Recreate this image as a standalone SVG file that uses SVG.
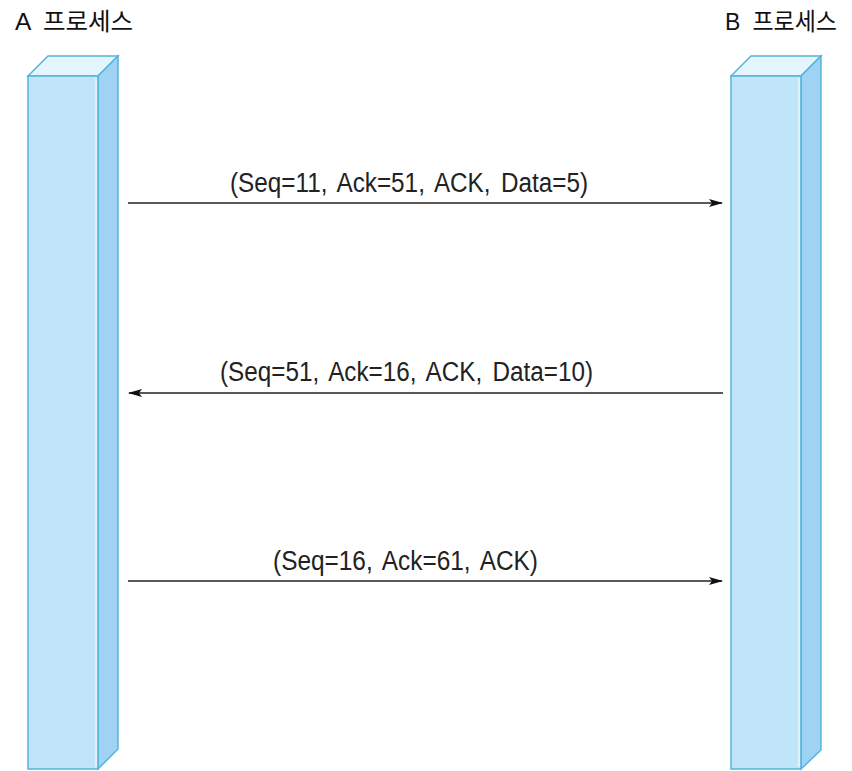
<svg xmlns="http://www.w3.org/2000/svg" width="852" height="771" viewBox="0 0 852 771">
<defs>
<style>
.lbl{font-family:"Liberation Sans","Noto Sans CJK KR",sans-serif;fill:#222;word-spacing:4px}
.hdr{font-family:"Liberation Sans","Noto Sans CJK KR",sans-serif;font-size:24px;fill:#111;word-spacing:6px}
.front{fill:#c0e4f8;stroke:#56b4dc;stroke-width:1.5}
.side{fill:#9fd3f3;stroke:#56b4dc;stroke-width:1.5}
.top{fill:#e4f5fd;stroke:#56b4dc;stroke-width:1.5}
.hl{stroke:#e8f7ff;stroke-width:1.5}
.msg{stroke:#222;stroke-width:1.3;fill:none}
</style>
<marker id="ah" viewBox="0 0 14 10" refX="13" refY="5" markerWidth="14" markerHeight="10" markerUnits="userSpaceOnUse" orient="auto">
<path d="M0,1 L14,5 L0,9 L3,5 Z" fill="#111"/>
</marker>
</defs>
<rect width="852" height="771" fill="#fff"/>
<g id="procA">
<text class="hdr" x="15" y="30" textLength="118" lengthAdjust="spacingAndGlyphs">A 프로세스</text>
<polygon class="top" points="28,76 48,56 118,56 98,76"/>
<polygon class="side" points="98,76 118,56 118,749 98,769"/>
<rect class="front" x="28" y="76" width="70" height="693"/>
<line class="hl" x1="96" y1="78" x2="96" y2="767"/>
</g>
<g id="procB">
<text class="hdr" x="725" y="30" textLength="112" lengthAdjust="spacingAndGlyphs">B 프로세스</text>
<polygon class="top" points="731,76 751,56 821,56 801,76"/>
<polygon class="side" points="801,76 821,56 821,750 801,769"/>
<rect class="front" x="731" y="76" width="70" height="693"/>
<line class="hl" x1="799" y1="78" x2="799" y2="767"/>
</g>
<g id="connectors">
<line class="msg" x1="128" y1="203" x2="722" y2="203" marker-end="url(#ah)"/>
<line class="msg" x1="723" y1="393" x2="129" y2="393" marker-end="url(#ah)"/>
<line class="msg" x1="128" y1="581" x2="722" y2="581" marker-end="url(#ah)"/>
<text class="lbl" x="230" y="192" font-size="27" textLength="358" lengthAdjust="spacingAndGlyphs">(Seq=11, Ack=51, ACK, Data=5)</text>
<text class="lbl" x="220" y="381" font-size="27" textLength="373" lengthAdjust="spacingAndGlyphs">(Seq=51, Ack=16, ACK, Data=10)</text>
<text class="lbl" x="273" y="570" font-size="27" textLength="265" lengthAdjust="spacingAndGlyphs">(Seq=16, Ack=61, ACK)</text>
</g>
</svg>
